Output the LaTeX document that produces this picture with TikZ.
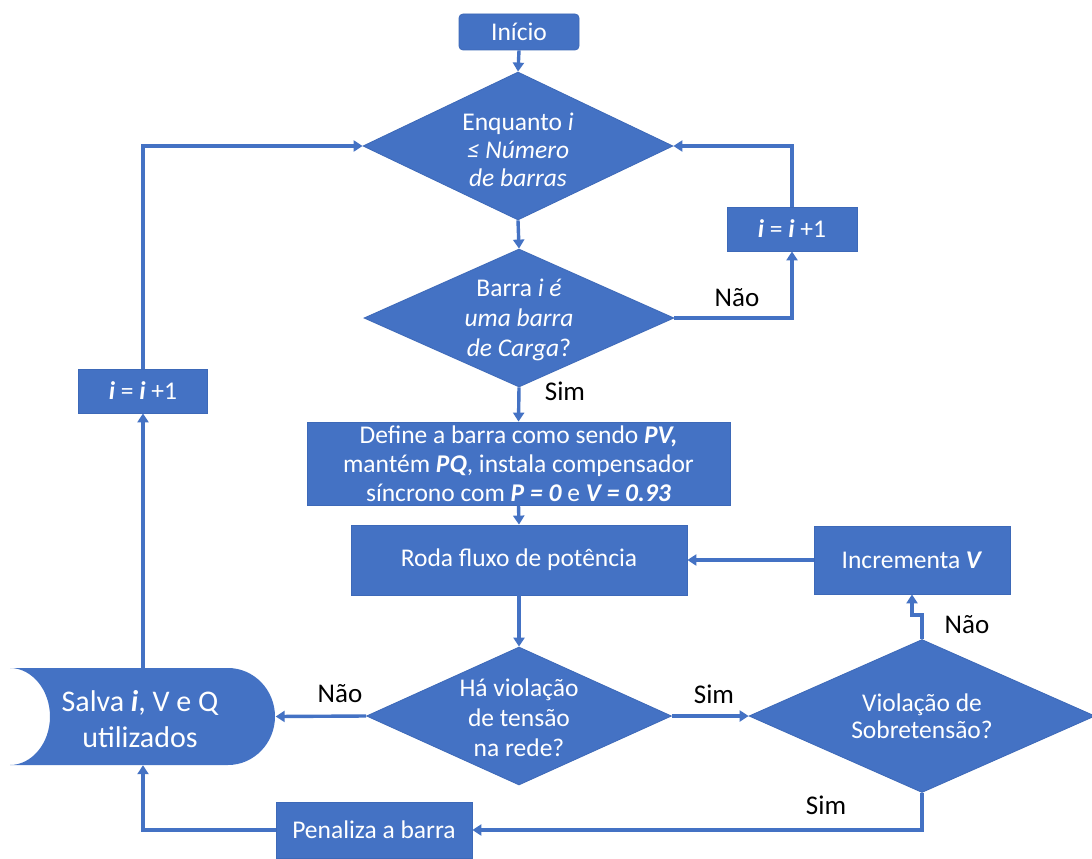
\documentclass[tikz,border=0pt]{standalone}
\usepackage{fontspec}
\setmainfont{Carlito}
\usetikzlibrary{arrows.meta,shapes.geometric}
\definecolor{flowblue}{HTML}{4472C4}
\definecolor{flowedge}{HTML}{3D69B8}
\begin{document}
\begin{tikzpicture}[x=1pt,y=-1pt,
  every node/.style={font=\fontsize{25.5}{30}\selectfont},
  proc/.style={rectangle, fill=flowblue, draw=flowedge, line width=0.8pt,
    text=white, inner sep=0pt, align=center},
  dec/.style={diamond, fill=flowblue, draw=flowedge, line width=0.8pt, inner sep=0pt},
  dectext/.style={text=white, align=center, inner sep=0pt},
  lbl/.style={text=black, font=\fontsize{27}{30}\selectfont, inner sep=0pt},
  flow/.style={draw=flowblue, line width=3.4pt, -{Triangle[width=11pt,length=9pt]}}
]
\useasboundingbox (0,0) rectangle (1092,859);
\fill[white] (0,0) rectangle (1092,859);

% --- process boxes ---
\node[proc, rounded corners=4pt, minimum width=120pt, minimum height=36pt] (inicio) at (519,32) {Início};
\node[proc, minimum width=423pt, minimum height=83pt,
  font=\fontsize{25.5}{29}\selectfont] (def) at (518.5,463.5)
  {Define a barra como sendo \textbf{\textit{PV,}}\\
   mantém \textbf{\textit{PQ}}, instala compensador\\
   síncrono com \textbf{\textit{P = 0}} e \textbf{\textit{V = 0.93}}};
\node[proc, minimum width=336pt, minimum height=70pt] (roda) at (519,560) {Roda fluxo de potência};
\node[proc, minimum width=196pt, minimum height=68pt] (inc) at (912,560) {Incrementa \textbf{\textit{V}}};
\node[proc, minimum width=130pt, minimum height=44pt] (ri) at (792,229) {\textbf{\textit{i}} = \textbf{\textit{i}} +1};
\node[proc, minimum width=129pt, minimum height=44pt] (li) at (143,391) {\textbf{\textit{i}} = \textbf{\textit{i}} +1};
\node[proc, minimum width=196pt, minimum height=56pt] (pen) at (374,830) {Penaliza a barra};

% --- decisions ---
\node[dec, minimum width=310pt, minimum height=148pt] (d1) at (518,146) {};
\node[dectext, font=\fontsize{25.5}{28}\selectfont] (d1t) at (518,150) {Enquanto \textit{i}\\ \textit{≤ Número}\\ \textit{de barras}};
\node[dec, minimum width=310pt, minimum height=138pt] (d2) at (519,318) {};
\node[dectext] (d2t) at (519,320) {Barra \textit{i é}\\ \textit{uma barra}\\ \textit{de Carga}?};
\node[dec, minimum width=305pt, minimum height=138pt] (d3) at (519,716) {};
\node[dectext] (d3t) at (519,718) {Há violação\\ de tensão\\ na rede?};
\node[dec, minimum width=346pt, minimum height=153pt] (d4) at (922,716) {};
\node[dectext, font=\fontsize{25.5}{27}\selectfont] (d4t) at (922,716) {Violação de\\ Sobretensão?};

% --- stored-data shape: concave left, rounded right ---
\fill[flowblue] (10,668) -- (228,668)
  .. controls (254,668) and (275,690) .. (275,716.5)
  .. controls (275,743) and (254,765) .. (228,765)
  -- (10,765)
  .. controls (32,765) and (50,743) .. (50,716.5)
  .. controls (50,690) and (32,668) .. (10,668) -- cycle;
\node[rectangle, minimum width=265pt, minimum height=97pt, inner sep=0pt] (salva) at (143,716.5) {};
\node[text=white, align=center, inner sep=0pt, font=\fontsize{30}{36}\selectfont] (salvat) at (140,719)
  {Salva \textbf{\textit{i}}, V e Q\\ utilizados};

% --- connectors ---
\draw[flow] (inicio.south) -- (d1.north);
\draw[flow] (d1.south) -- (d2.north);
\draw[flow] (d2.east) -| (ri.south);
\draw[flow] (ri.north) |- (d1.east);
\draw[flow] (d2.south) -- (def.north);
\draw[flow] (def.south) -- (roda.north);
\draw[flow] (roda.south) -- (d3.north);
\draw[flow] (d3.east) -- (d4.west);
\draw[flow] (d4.north) -- ++(0,-24) -| (inc.south);
\draw[flow] (inc.west) -- (roda.east);
\draw[flow] (d4.south) |- (pen.east);
\draw[flow] (pen.west) -| (salva.south);
\draw[flow] (d3.west) -- (salva.east);
\draw[flow] (salva.north) -- (li.south);
\draw[flow] (li.north) |- (d1.west);

% --- branch labels ---
\node[lbl] (nao1) at (737,298) {Não};
\node[lbl] (sim1) at (565,391) {Sim};
\node[lbl] (nao2) at (340,694) {Não};
\node[lbl] (sim2) at (714,694) {Sim};
\node[lbl] (nao3) at (967,625) {Não};
\node[lbl] (sim3) at (826,805) {Sim};
\end{tikzpicture}
\end{document}
